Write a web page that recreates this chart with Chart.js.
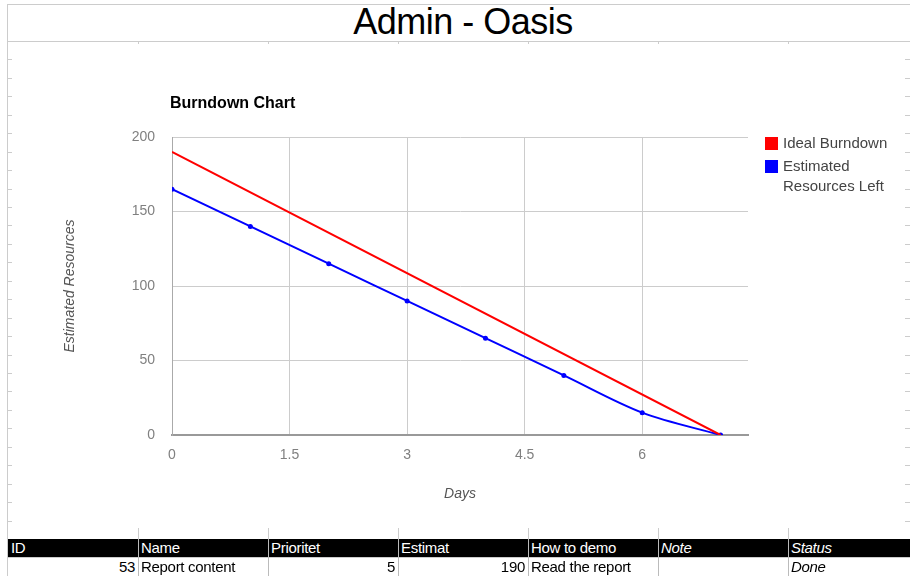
<!DOCTYPE html>
<html>
<head>
<meta charset="utf-8">
<script src="https://cdn.jsdelivr.net/npm/chart.js@4.4.1/dist/chart.umd.min.js"></script>
<style>
  html, body { margin: 0; padding: 0; background: #fff; }
  #sheet { position: relative; width: 910px; height: 576px; overflow: hidden; background: #fff;
           font-family: "Liberation Sans", Arial, sans-serif; }
  .line { position: absolute; background: #ccc; }
  #title { position: absolute; left: 8px; top: 2px; width: 910px; text-align: center;
           font-size: 36px; letter-spacing: -0.5px; color: #000; line-height: 40px; }
  #chartBox { position: absolute; left: 12px; top: 43px; width: 893px; height: 485px; background: #fff; }
  .cell { position: absolute; height: 18px; line-height: 18px; font-size: 15px; letter-spacing: -0.3px;
          box-sizing: border-box; padding: 0 3px; white-space: nowrap; overflow: hidden; }
  .head { background: #000; color: #fff; }
  .italic { font-style: italic; }
  .num { text-align: right; }
</style>
</head>
<body>
<div id="sheet">
  <div id="title">Admin - Oasis</div>
  <div id="chartBox"><canvas id="burndown" width="893" height="485"></canvas></div>
</div>
<script>
// chart data
const days = [0, 1, 2, 3, 4, 5, 6, 7];
const estimatedLeft = [165, 140, 115, 90, 65, 40, 15, 0];
const idealDays = [0, 7];
const idealBurndown = [190, 0];
const xTicks = [0, 1.5, 3, 4.5, 6];
const yTicks = [0, 50, 100, 150, 200];
const seriesNames = ['Ideal Burndown', 'Estimated Resources Left'];

// spreadsheet rows below the chart
const tableHead = ['ID', 'Name', 'Prioritet', 'Estimat', 'How to demo', 'Note', 'Status'];
const tableRow = ['53', 'Report content', '5', '190', 'Read the report', '', 'Done'];
const italicCols = [5, 6];
const numericCols = [0, 2, 3];

const sheet = document.getElementById('sheet');

function addLine(x, y, w, h, color) {
    const d = document.createElement('div');
    d.className = 'line';
    d.style.left = x + 'px';
    d.style.top = y + 'px';
    d.style.width = w + 'px';
    d.style.height = h + 'px';
    if (color) d.style.background = color;
    sheet.appendChild(d);
}

// sheet frame + grid stubs
addLine(7, 4, 903, 1);
addLine(7, 4, 1, 572);
addLine(7, 41, 903, 1);
const colW = 130;
for (let c = 1; c < 7; c++) {
    const x = 8 + c * colW;
    addLine(x, 42, 1, 2);
    addLine(x, 528, 1, 48);
}
const rowH = (539 - 41) / 27;
for (let r = 1; r < 27; r++) {
    const y = Math.round(41 + r * rowH);
    addLine(8, y, 4, 1);
    addLine(905, y, 5, 1);
}

function addCell(text, col, top, cls) {
    const d = document.createElement('div');
    d.className = 'cell ' + cls;
    d.style.left = (8 + col * colW) + 'px';
    d.style.top = top + 'px';
    d.style.width = colW + 'px';
    d.textContent = text;
    sheet.appendChild(d);
}
tableHead.forEach((t, i) => addCell(t, i, 539, 'head' + (italicCols.includes(i) ? ' italic' : '')));
tableRow.forEach((t, i) => addCell(t, i, 558,
    (numericCols.includes(i) ? 'num' : '') + (italicCols.includes(i) ? ' italic' : '')));
addLine(8, 557, 902, 1);
for (let c = 1; c < 7; c++) addLine(8 + c * colW, 539, 1, 37, '#bbb');

function wrapText(ctx, text, maxW) {
    const words = text.split(' ');
    const lines = [];
    let cur = '';
    words.forEach(w => {
        const test = cur ? cur + ' ' + w : w;
        if (cur && ctx.measureText(test).width > maxW) {
            lines.push(cur);
            cur = w;
        } else {
            cur = test;
        }
    });
    if (cur) lines.push(cur);
    return lines;
}

// title + legend drawn beside the plot, google-charts style
const burndownDecor = {
    id: 'burndownDecor',
    afterDraw(chart) {
        const { ctx, chartArea } = chart;
        ctx.save();
        ctx.textBaseline = 'middle';
        ctx.fillStyle = '#000';
        ctx.font = 'bold 16px "Liberation Sans", Arial, sans-serif';
        ctx.fillText('Burndown Chart', chartArea.left - 2, chartArea.top - 33);

        const lx = chartArea.right + 17;
        let ly = chartArea.top;
        ctx.font = '15px "Liberation Sans", Arial, sans-serif';
        chart.data.datasets.forEach(ds => {
            ctx.fillStyle = ds.borderColor;
            ctx.fillRect(lx, ly, 13, 13);
            ctx.fillStyle = '#444';
            const lines = wrapText(ctx, ds.label, 115);
            lines.forEach((t, j) => ctx.fillText(t, lx + 18, ly + 7 + j * 20));
            ly += 23;
        });
        ctx.restore();
    }
};

new Chart(document.getElementById('burndown'), {
    type: 'line',
    data: {
        datasets: [{
            label: seriesNames[0],
            data: idealDays.map((d, i) => ({ x: d, y: idealBurndown[i] })),
            borderColor: '#ff0000',
            backgroundColor: '#ff0000',
            borderWidth: 2,
            pointRadius: 0
        }, {
            label: seriesNames[1],
            data: days.map((d, i) => ({ x: d, y: estimatedLeft[i] })),
            borderColor: '#0000ff',
            backgroundColor: '#0000ff',
            borderWidth: 2,
            pointRadius: 2.5,
            pointBorderWidth: 0,
            cubicInterpolationMode: 'monotone'
        }]
    },
    options: {
        responsive: false,
        animation: false,
        devicePixelRatio: 1,
        layout: { padding: { left: 50, right: 157, top: 94, bottom: 25 } },
        plugins: {
            legend: { display: false },
            title: { display: false },
            tooltip: { enabled: false }
        },
        scales: {
            x: {
                type: 'linear',
                min: 0,
                max: 7.35,
                afterBuildTicks: s => { s.ticks = xTicks.map(v => ({ value: v })); },
                afterFit: s => { s.height = 68; },
                grid: { color: '#ccc', drawTicks: false },
                border: { color: '#999', width: 2 },
                ticks: {
                    padding: 12,
                    color: '#808080',
                    maxRotation: 0,
                    font: { family: '"Liberation Sans", Arial, sans-serif', size: 14 }
                },
                title: {
                    display: true,
                    text: 'Days',
                    color: '#555',
                    padding: 0,
                    font: { family: '"Liberation Sans", Arial, sans-serif', size: 14, style: 'italic' }
                }
            },
            y: {
                min: 0,
                max: 200,
                afterBuildTicks: s => { s.ticks = yTicks.map(v => ({ value: v })); },
                afterFit: s => { s.width = 110; },
                grid: { color: '#ccc', drawTicks: false },
                border: { color: '#aaa', width: 1 },
                ticks: {
                    padding: 17,
                    color: '#808080',
                    font: { family: '"Liberation Sans", Arial, sans-serif', size: 14 }
                },
                title: {
                    display: true,
                    text: 'Estimated Resources',
                    color: '#555',
                    padding: 0,
                    font: { family: '"Liberation Sans", Arial, sans-serif', size: 14, style: 'italic' }
                }
            }
        }
    },
    plugins: [burndownDecor]
});
</script>
</body>
</html>
